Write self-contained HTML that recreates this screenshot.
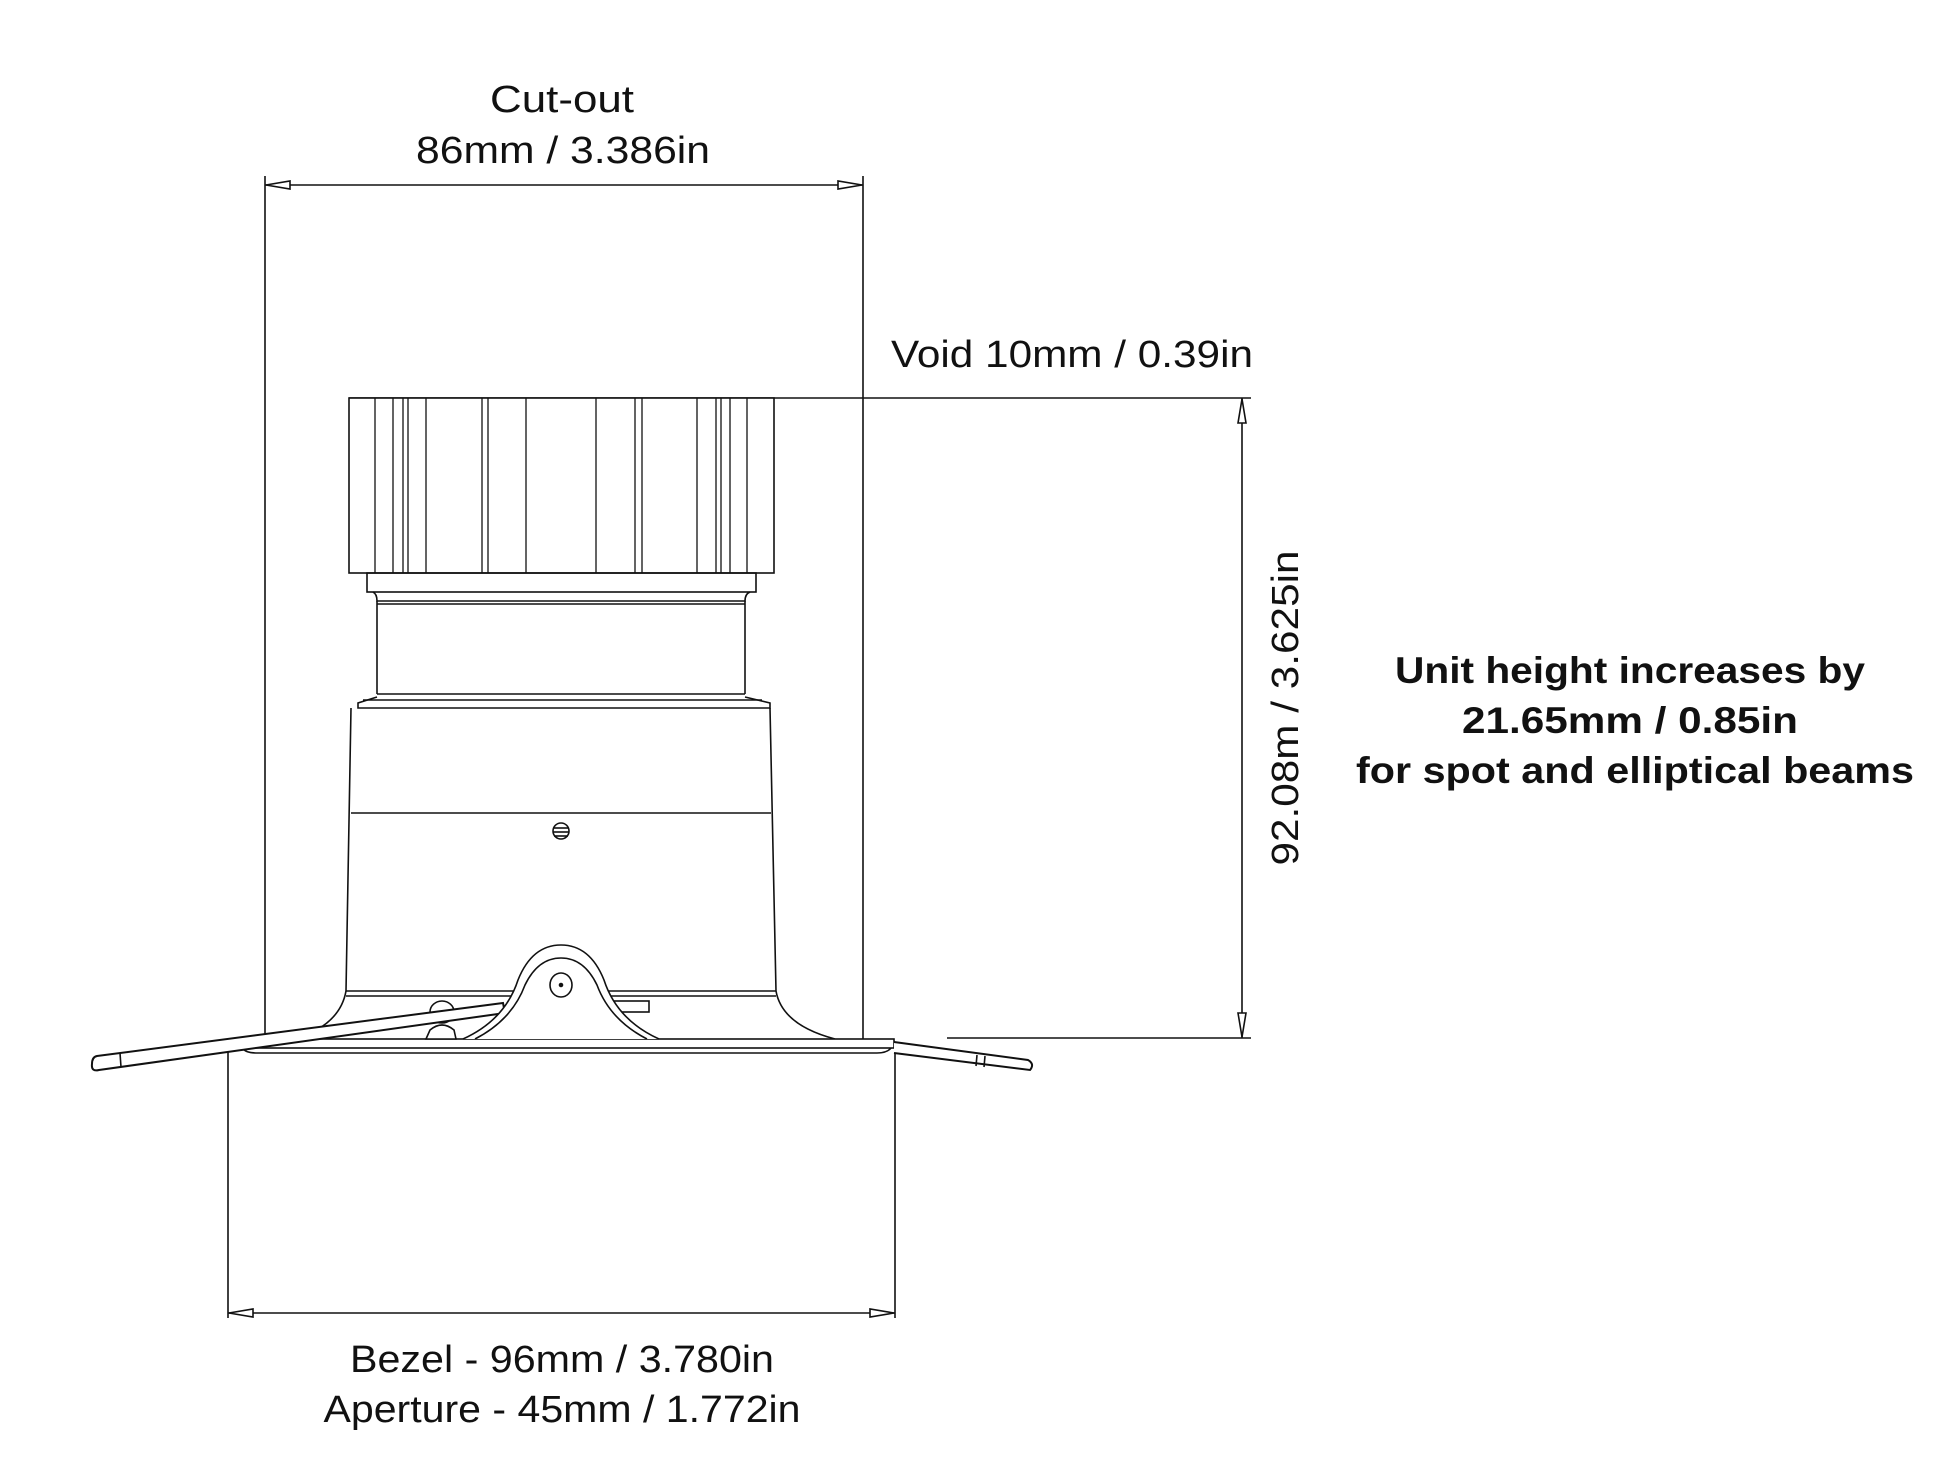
<!DOCTYPE html>
<html><head><meta charset="utf-8"><style>
html,body{margin:0;padding:0;background:#fff;}
svg{display:block;}
text{font-family:"Liberation Sans",sans-serif;fill:#111;}
</style></head><body>
<svg width="1946" height="1462" viewBox="0 0 1946 1462" xmlns="http://www.w3.org/2000/svg">
<g stroke="#111" stroke-width="1.6" fill="none">
<line x1="265" y1="176" x2="265" y2="1039"/>
<line x1="863" y1="176" x2="863" y2="1039"/>
<line x1="265" y1="185" x2="863" y2="185"/>
<path d="M266 185 L290 181 L290 189 Z M862 185 L838 181 L838 189 Z" fill="#fff"/>
<line x1="349" y1="398" x2="1251" y2="398"/>
<line x1="947" y1="1038" x2="1251" y2="1038"/>
<line x1="1242" y1="398" x2="1242" y2="1038"/>
<path d="M1242 399 L1238 423 L1246 423 Z M1242 1037 L1238 1013 L1246 1013 Z" fill="#fff"/>
<line x1="228" y1="1047" x2="228" y2="1318"/>
<line x1="895" y1="1047" x2="895" y2="1318"/>
<line x1="228" y1="1313" x2="895" y2="1313"/>
<path d="M229 1313 L253 1309 L253 1317 Z M894 1313 L870 1309 L870 1317 Z" fill="#fff"/>
<rect x="349" y="398" width="425" height="175" fill="#fff"/>
<g stroke-width="1.3">
<line x1="375" y1="398" x2="375" y2="573"/><line x1="393" y1="398" x2="393" y2="573"/>
<line x1="403" y1="398" x2="403" y2="573"/><line x1="408" y1="398" x2="408" y2="573"/>
<line x1="426" y1="398" x2="426" y2="573"/><line x1="482" y1="398" x2="482" y2="573"/>
<line x1="488" y1="398" x2="488" y2="573"/><line x1="526" y1="398" x2="526" y2="573"/>
<line x1="596" y1="398" x2="596" y2="573"/><line x1="635" y1="398" x2="635" y2="573"/>
<line x1="642" y1="398" x2="642" y2="573"/><line x1="697" y1="398" x2="697" y2="573"/>
<line x1="716" y1="398" x2="716" y2="573"/><line x1="721" y1="398" x2="721" y2="573"/>
<line x1="730" y1="398" x2="730" y2="573"/><line x1="747" y1="398" x2="747" y2="573"/>
</g>
<rect x="367" y="573" width="389" height="19"/>
<path d="M373 592 Q377 594 377 601 L745 601 Q745 594 750 592"/>
<line x1="377" y1="604" x2="745" y2="604"/>
<line x1="377" y1="601" x2="377" y2="694"/>
<line x1="745" y1="601" x2="745" y2="694"/>
<line x1="377" y1="694" x2="745" y2="694"/>
<path d="M377 697 L358 703 L358 708 L770 708 L770 703 L745 697"/>
<line x1="363" y1="700" x2="762" y2="700"/>
<path d="M351 708 L346 991 Q340 1025 295 1039"/>
<path d="M770 708 L776 991 Q782 1025 835 1039"/>
<line x1="351" y1="813" x2="771" y2="813"/>
<line x1="346" y1="991" x2="776" y2="991"/>
<line x1="346" y1="996" x2="776" y2="996"/>
<ellipse cx="561" cy="831" rx="8" ry="8"/>
<line x1="554" y1="828" x2="568" y2="828"/><line x1="553" y1="832" x2="569" y2="832"/><line x1="554" y1="836" x2="568" y2="836"/>
<rect x="228" y="1039" width="666" height="9" fill="#fff"/>
<path d="M242 1048 Q246 1053 256 1053 L877 1053 Q887 1053 891 1048"/>
<rect x="610" y="1001" width="39" height="11"/>
<ellipse cx="442" cy="1012" rx="12" ry="11" fill="#fff"/>
<path d="M430 1030 Q442 1020 454 1030 L456 1039 L426 1039 Z" fill="#fff"/>
<path d="M97 1056 L503 1003 L505 1013 L99 1070 Q91 1072 92 1064 Q92 1057 97 1056 Z" fill="#fff" stroke-width="2"/>
<line x1="120" y1="1053" x2="121" y2="1067"/>
<path d="M463 1039 Q505 1020 518 980 Q532 945 561 945 Q590 945 604 980 Q617 1020 659 1039" fill="#fff"/>
<path d="M475 1039 Q512 1020 525 985 Q538 958 561 958 Q584 958 597 985 Q610 1020 647 1039"/>
<ellipse cx="561" cy="985" rx="11" ry="12"/>
<circle cx="561" cy="985" r="1.5" fill="#111"/>
<path d="M894 1042 L1028 1060 Q1035 1064 1030 1070 L894 1053" fill="#fff" stroke-width="2"/>
<line x1="977" y1="1055" x2="976" y2="1066"/><line x1="985" y1="1056" x2="984" y2="1067"/>
</g>
<g font-size="38" text-anchor="middle">
<text x="562" y="112" textLength="144" lengthAdjust="spacingAndGlyphs">Cut-out</text>
<text x="563" y="163" textLength="294" lengthAdjust="spacingAndGlyphs">86mm / 3.386in</text>
<text x="1072" y="367" textLength="362" lengthAdjust="spacingAndGlyphs">Void 10mm / 0.39in</text>
<text x="562" y="1372" textLength="424" lengthAdjust="spacingAndGlyphs">Bezel - 96mm / 3.780in</text>
<text x="562" y="1422" textLength="477" lengthAdjust="spacingAndGlyphs">Aperture - 45mm / 1.772in</text>
<text x="0" y="0" transform="translate(1298 708) rotate(-90)" textLength="315" lengthAdjust="spacingAndGlyphs">92.08m / 3.625in</text>
</g>
<g font-size="37" font-weight="bold" text-anchor="middle">
<text x="1630" y="683" textLength="470" lengthAdjust="spacingAndGlyphs">Unit height increases by</text>
<text x="1630" y="733" textLength="336" lengthAdjust="spacingAndGlyphs">21.65mm / 0.85in</text>
<text x="1635" y="783" textLength="558" lengthAdjust="spacingAndGlyphs">for spot and elliptical beams</text>
</g>
</svg>
</body></html>
